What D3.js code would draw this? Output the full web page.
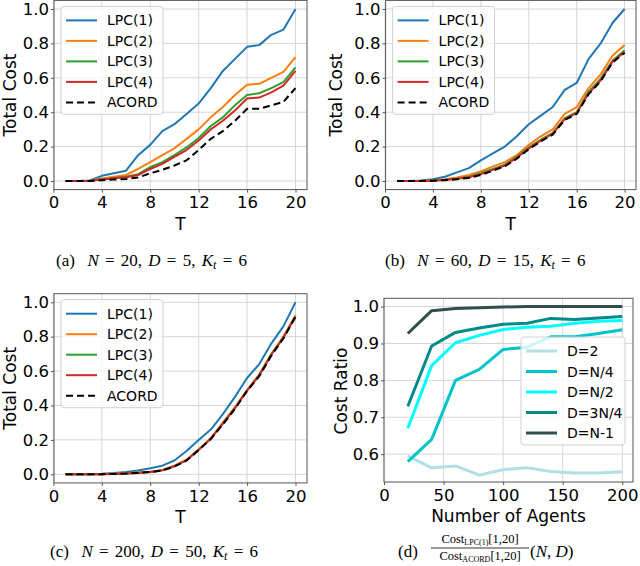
<!DOCTYPE html>
<html>
<head>
<meta charset="utf-8">
<script src="https://cdn.jsdelivr.net/npm/d3@7"></script>
<style>
  body { margin: 0; background: #fff; }
  svg { display: block; }
  .tick text { font-family: "DejaVu Sans", sans-serif; }
  .cap { white-space: pre; word-spacing: 2px; }
</style>
</head>
<body>
<div id="chart"></div>
<script>
// ---- data ----
var T = d3.range(1, 21);
var lineNames = ["LPC(1)", "LPC(2)", "LPC(3)", "LPC(4)", "ACORD"];
var lineColors = ["#1f77b4", "#ff7f0e", "#2ca02c", "#d62728", "#000000"];

// (a) N=20
var a_lpc1 = [0, 0, 0.003, 0.03, 0.045, 0.06, 0.15, 0.21, 0.29, 0.33, 0.39, 0.45, 0.54, 0.64, 0.71, 0.78, 0.79, 0.85, 0.88, 1.0];
var a_lpc2 = [0, 0, 0.002, 0.015, 0.025, 0.035, 0.07, 0.11, 0.15, 0.19, 0.245, 0.30, 0.37, 0.43, 0.50, 0.56, 0.565, 0.60, 0.635, 0.72];
var a_lpc3 = [0, 0, 0.001, 0.01, 0.018, 0.025, 0.04, 0.08, 0.11, 0.15, 0.195, 0.25, 0.32, 0.37, 0.44, 0.50, 0.51, 0.54, 0.575, 0.66];
var a_lpc4 = [0, 0, 0.001, 0.009, 0.016, 0.022, 0.035, 0.07, 0.10, 0.14, 0.18, 0.235, 0.30, 0.35, 0.41, 0.48, 0.485, 0.515, 0.555, 0.64];
var a_acord = [0, 0, 0, 0.005, 0.008, 0.012, 0.02, 0.045, 0.065, 0.09, 0.12, 0.18, 0.245, 0.29, 0.35, 0.42, 0.42, 0.44, 0.46, 0.54];

// (b) N=60
var b_lpc1 = [0, 0, 0.003, 0.01, 0.025, 0.05, 0.075, 0.12, 0.16, 0.20, 0.26, 0.33, 0.38, 0.43, 0.53, 0.57, 0.71, 0.80, 0.92, 1.0];
var b_lpc2 = [0, 0, 0.001, 0.004, 0.01, 0.02, 0.035, 0.055, 0.085, 0.11, 0.15, 0.21, 0.26, 0.30, 0.39, 0.43, 0.54, 0.62, 0.73, 0.79];
var b_lpc3 = [0, 0, 0, 0.003, 0.007, 0.015, 0.025, 0.045, 0.07, 0.095, 0.14, 0.195, 0.24, 0.28, 0.365, 0.40, 0.52, 0.595, 0.70, 0.76];
var b_lpc4 = [0, 0, 0, 0.002, 0.006, 0.013, 0.022, 0.04, 0.065, 0.09, 0.135, 0.19, 0.235, 0.275, 0.36, 0.395, 0.51, 0.585, 0.695, 0.75];
var b_acord = [0, 0, 0, 0.002, 0.005, 0.01, 0.018, 0.035, 0.06, 0.085, 0.13, 0.185, 0.23, 0.27, 0.355, 0.39, 0.505, 0.58, 0.69, 0.745];

// (c) N=200
var c_lpc1 = [0, 0, 0.001, 0.003, 0.007, 0.013, 0.022, 0.035, 0.05, 0.08, 0.135, 0.20, 0.26, 0.35, 0.45, 0.56, 0.64, 0.76, 0.86, 1.0];
var c_lpc2 = [0, 0, 0, 0.001, 0.003, 0.006, 0.01, 0.015, 0.025, 0.05, 0.085, 0.145, 0.21, 0.30, 0.39, 0.49, 0.58, 0.70, 0.80, 0.925];
var c_lpc3 = [0, 0, 0, 0.001, 0.003, 0.005, 0.009, 0.014, 0.024, 0.048, 0.083, 0.143, 0.208, 0.297, 0.387, 0.488, 0.577, 0.697, 0.797, 0.92];
var c_lpc4 = [0, 0, 0, 0.001, 0.002, 0.005, 0.009, 0.014, 0.023, 0.047, 0.082, 0.142, 0.207, 0.295, 0.385, 0.487, 0.575, 0.695, 0.795, 0.918];
var c_acord = [0, 0, 0, 0.001, 0.002, 0.004, 0.008, 0.013, 0.022, 0.045, 0.08, 0.14, 0.205, 0.29, 0.38, 0.485, 0.57, 0.69, 0.79, 0.915];

// (d) cost ratio vs number of agents
var agents = [20, 40, 60, 80, 100, 120, 140, 160, 180, 200];
var ratioNames = ["D=2", "D=N/4", "D=N/2", "D=3N/4", "D=N-1"];
var ratioColors = ["#b0e0e6", "#00c5c8", "#00ffff", "#008b8b", "#2f4f4f"];
var r_d2 = [0.595, 0.563, 0.568, 0.543, 0.558, 0.563, 0.553, 0.549, 0.549, 0.552];
var r_n4 = [0.58, 0.64, 0.80, 0.83, 0.884, 0.89, 0.918, 0.918, 0.927, 0.937];
var r_n2 = [0.67, 0.84, 0.902, 0.922, 0.938, 0.944, 0.947, 0.955, 0.96, 0.962];
var r_3n4 = [0.73, 0.893, 0.93, 0.942, 0.952, 0.955, 0.968, 0.965, 0.969, 0.973];
var r_n1 = [0.927, 0.989, 0.995, 0.997, 0.999, 1.0, 1.0, 1.0, 1.0, 1.0];

var tTicks = [0, 4, 8, 12, 16, 20];
var costTicks = [0.0, 0.2, 0.4, 0.6, 0.8, 1.0];
var agentTicks = [0, 50, 100, 150, 200];
var ratioTicks = [0.6, 0.7, 0.8, 0.9, 1.0];

var svg = d3.select("#chart").append("svg")
  .attr("width", 640).attr("height", 566);

var font = "DejaVu Sans, sans-serif";

function panel(p) {
  var x = d3.scaleLinear().domain(p.xDomain).range(p.xRange);
  var y = d3.scaleLinear().domain(p.yDomain).range(p.yRange);
  var g = svg.append("g");
  var left = p.xRange[0], right = p.xRange[1], top = p.yRange[1], bottom = p.yRange[0];

  // grid
  g.append("g").selectAll("line").data(p.xTicks).enter().append("line")
    .attr("x1", function(d) { return x(d); }).attr("x2", function(d) { return x(d); })
    .attr("y1", top).attr("y2", bottom)
    .attr("stroke", "#d6d6d6").attr("stroke-width", 1);
  g.append("g").selectAll("line").data(p.yTicks).enter().append("line")
    .attr("y1", function(d) { return y(d); }).attr("y2", function(d) { return y(d); })
    .attr("x1", left).attr("x2", right)
    .attr("stroke", "#d6d6d6").attr("stroke-width", 1);

  // lines
  var line = d3.line()
    .x(function(d) { return x(d[0]); })
    .y(function(d) { return y(d[1]); });
  p.series.forEach(function(s, i) {
    g.append("path")
      .attr("d", line(p.xs.map(function(v, j) { return [v, s[j]]; })))
      .attr("fill", "none")
      .attr("stroke", p.colors[i])
      .attr("stroke-width", p.lw)
      .attr("stroke-dasharray", p.names[i] == "ACORD" ? "7,4" : null)
      .attr("stroke-linejoin", "round");
  });

  // frame
  g.append("rect").attr("x", left).attr("y", top)
    .attr("width", right - left).attr("height", bottom - top)
    .attr("fill", "none").attr("stroke", "#555").attr("stroke-width", 1);

  // axes
  var xa = g.append("g").attr("transform", "translate(0," + bottom + ")")
    .call(d3.axisBottom(x).tickValues(p.xTicks).tickSize(3).tickPadding(4).tickFormat(d3.format("d")));
  var ya = g.append("g").attr("transform", "translate(" + left + ",0)")
    .call(d3.axisLeft(y).tickValues(p.yTicks).tickSize(3).tickPadding(2).tickFormat(d3.format(".1f")));
  [xa, ya].forEach(function(a) {
    a.select(".domain").remove();
    a.selectAll(".tick line").attr("stroke", "#555");
    a.selectAll(".tick text").attr("font-size", 16.5).attr("fill", "#000");
  });

  // axis labels
  g.append("text").attr("x", (left + right) / 2).attr("y", p.xLabelY)
    .attr("text-anchor", "middle").attr("font-family", font).attr("font-size", 17)
    .text(p.xLabel);
  g.append("text").attr("transform", "translate(" + p.yLabelX + "," + p.yLabelCY + ") rotate(-90)")
    .attr("text-anchor", "middle").attr("font-family", font).attr("font-size", 17)
    .text(p.yLabel);

  // legend
  var lg = g.append("g").attr("transform", "translate(" + p.legX + "," + p.legY + ")");
  lg.append("rect").attr("width", p.legW).attr("height", 108).attr("rx", 3)
    .attr("fill", "#fff").attr("fill-opacity", 0.8)
    .attr("stroke", "#d0d0d0").attr("stroke-width", 1);
  p.names.forEach(function(n, i) {
    var yy = 14 + i * 20.5;
    lg.append("line").attr("x1", 5).attr("x2", 36).attr("y1", yy).attr("y2", yy)
      .attr("stroke", p.colors[i]).attr("stroke-width", p.lw)
      .attr("stroke-dasharray", n == "ACORD" ? "7,4" : null);
    lg.append("text").attr("x", 46).attr("y", yy).attr("dy", "0.36em")
      .attr("font-family", font).attr("font-size", 14).text(n);
  });
}

function costPanel(xr, yr, data, ox) {
  panel({
    xDomain: [0.05, 20.95], xRange: xr,
    yDomain: [-0.05, 1.05], yRange: yr,
    xTicks: tTicks, yTicks: costTicks,
    xs: T, series: data, names: lineNames, colors: lineColors, lw: 2,
    xLabel: "T", xLabelY: yr[0] + 40,
    yLabel: "Total Cost", yLabelX: ox + 16, yLabelCY: (yr[0] + yr[1]) / 2,
    legX: xr[0] + 7, legY: yr[1] + 6, legW: 102
  });
}

costPanel([54, 307], [189.6, 0.4], [a_lpc1, a_lpc2, a_lpc3, a_lpc4, a_acord], 0);
costPanel([385.6, 636], [189.6, 0.4], [b_lpc1, b_lpc2, b_lpc3, b_lpc4, b_acord], 326);
costPanel([54, 307], [482.9, 293.7], [c_lpc1, c_lpc2, c_lpc3, c_lpc4, c_acord], 0);

panel({
  xDomain: [0, 209], xRange: [384, 633],
  yDomain: [0.5245, 1.0225], yRange: [482, 298.3],
  xTicks: agentTicks, yTicks: ratioTicks,
  xs: agents, series: [r_d2, r_n4, r_n2, r_3n4, r_n1], names: ratioNames, colors: ratioColors, lw: 3,
  xLabel: "Number of Agents", xLabelY: 522,
  yLabel: "Cost Ratio", yLabelX: 347, yLabelCY: 391,
  legX: 521, legY: 337, legW: 104
});

// captions
var serif = "Liberation Serif, serif";
function caption(x0, cy, parts) {
  var t = svg.append("text").attr("class", "cap").attr("x", x0).attr("y", cy)
    .attr("font-family", serif).attr("font-size", 17);
  parts.forEach(function(p) {
    var s = t.append("tspan").text(p[0]);
    if (p[1] == "i") s.attr("font-style", "italic");
    if (p[1] == "sub") s.attr("font-style", "italic").attr("font-size", 12).attr("dy", 3);
    if (p[1] == "after") s.attr("dy", -3);
  });
}
caption(56, 266, [["(a)  "], ["N", "i"], [" = 20, "], ["D", "i"], [" = 5, "], ["K", "i"], ["t", "sub"], [" = 6", "after"]]);
caption(385, 266, [["(b)  "], ["N", "i"], [" = 60, "], ["D", "i"], [" = 15, "], ["K", "i"], ["t", "sub"], [" = 6", "after"]]);
caption(50, 557, [["(c)  "], ["N", "i"], [" = 200, "], ["D", "i"], [" = 50, "], ["K", "i"], ["t", "sub"], [" = 6", "after"]]);

// (d) caption with fraction
var cd = svg.append("g").attr("font-family", serif);
cd.append("text").attr("x", 398).attr("y", 557).attr("font-size", 17).text("(d)");
var num = cd.append("text").attr("x", 480).attr("y", 543).attr("text-anchor", "middle").attr("font-size", 12.5);
num.append("tspan").text("Cost");
num.append("tspan").attr("font-size", 8).attr("dy", 2).text("LPC(1)");
num.append("tspan").attr("dy", -2).text("[1,20]");
cd.append("line").attr("x1", 431).attr("x2", 529).attr("y1", 548).attr("y2", 548)
  .attr("stroke", "#000").attr("stroke-width", 0.8);
var den = cd.append("text").attr("x", 480).attr("y", 560).attr("text-anchor", "middle").attr("font-size", 12.5);
den.append("tspan").text("Cost");
den.append("tspan").attr("font-size", 8).attr("dy", 2).text("ACORD");
den.append("tspan").attr("dy", -2).text("[1,20]");
var nd = cd.append("text").attr("x", 530).attr("y", 557).attr("font-size", 17);
nd.append("tspan").text("(");
nd.append("tspan").attr("font-style", "italic").text("N");
nd.append("tspan").text(", ");
nd.append("tspan").attr("font-style", "italic").text("D");
nd.append("tspan").text(")");
</script>
</body>
</html>
